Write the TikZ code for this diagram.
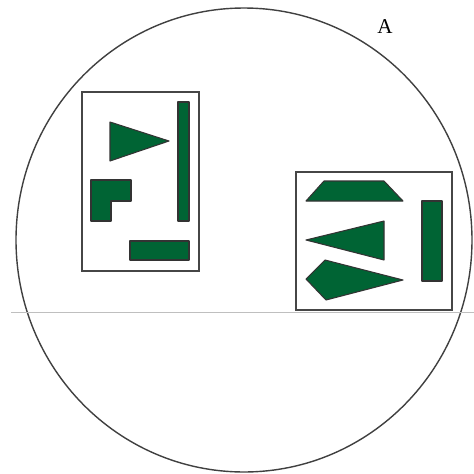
\documentclass[tikz,border=0pt]{standalone}
\usepackage{fontspec}
\setmainfont{Liberation Serif}
\definecolor{pine}{RGB}{0,100,52}
\definecolor{frame}{RGB}{70,70,70}
\tikzset{
  part/.style={fill=pine,draw=black!80,line width=0.6pt,line join=round},
  tray/.style={draw=frame,line width=1.1pt},
  rim/.style={draw=black!75,line width=0.8pt},
  axis/.style={draw=black!25,line width=0.5pt},
}
\begin{document}
\begin{tikzpicture}[x=0.02cm,y=-0.02cm]
  \useasboundingbox (0,0) rectangle (474,474);
  % outer circle and horizontal line
  \draw[rim] (244,240) ellipse [x radius=228,y radius=232];
  \draw[axis] (11,312) -- (474,312);
  \node[font=\fontsize{12}{14}\selectfont] (lbl) at (385,27) {A};
  % left tray
  \draw[tray] (82,92) rectangle (199,271);
  \draw[part] (178,102) rectangle (189,221);
  \draw[part] (110,122) -- (169,141) -- (110,161) -- cycle;
  \draw[part] (91,180) -- (131,180) -- (131,201) -- (111,201) -- (111,221) -- (91,221) -- cycle;
  \draw[part] (130,241) rectangle (189,260);
  % right tray
  \draw[tray] (296,172) rectangle (452,310);
  \draw[part] (324,181) -- (384,181) -- (403,201) -- (306,201) -- cycle;
  \draw[part] (306,240) -- (384,221) -- (384,260) -- cycle;
  \draw[part] (325,260) -- (403,280) -- (326,300) -- (306,279) -- cycle;
  \draw[part] (422,201) rectangle (442,281);
\end{tikzpicture}
\end{document}
